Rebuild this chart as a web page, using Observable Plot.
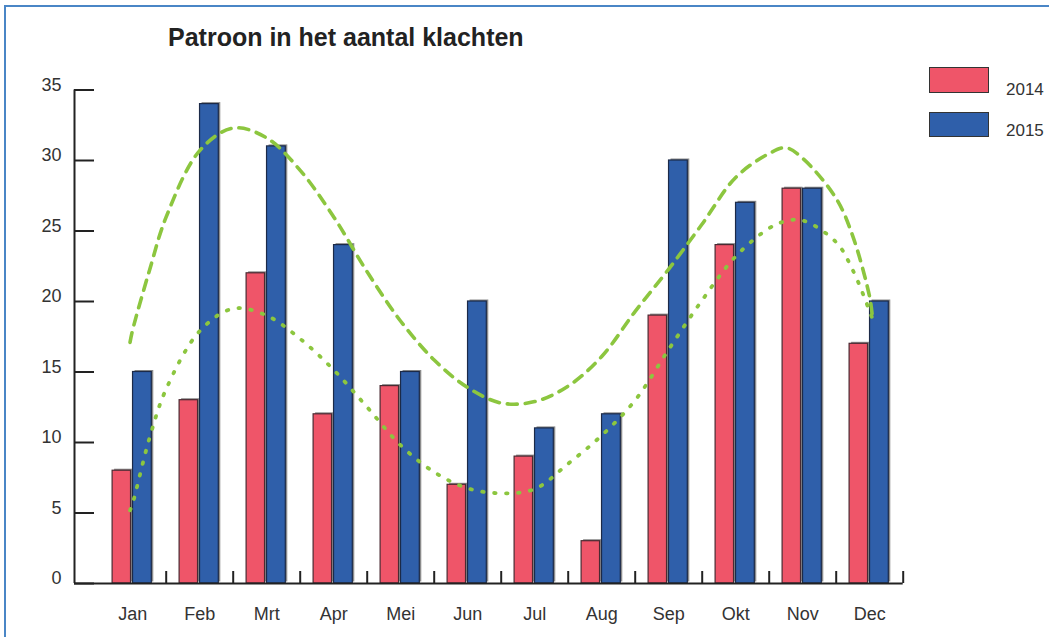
<!DOCTYPE html>
<html>
<head>
<meta charset="utf-8">
<script src="https://cdn.jsdelivr.net/npm/d3@7"></script>
<script src="https://cdn.jsdelivr.net/npm/@observablehq/plot@0.6"></script>
<style>
  html, body { margin: 0; padding: 0; background: #fff; }
  #wrap { position: relative; width: 1049px; height: 637px; overflow: hidden; font-family: "Liberation Sans", Arial, sans-serif; }
  #border { position: absolute; left: 4px; top: 5px; right: -10px; bottom: -10px; border-top: 2px solid #4a86c6; border-left: 2px solid #4a86c6; }
  #title { position: absolute; left: 168px; top: 25px; font-size: 25px; line-height: 25px; font-weight: bold; color: #222; white-space: nowrap; }
  .sw { position: absolute; left: 929px; width: 58px; border: 1.5px solid #333; }
  .lt { position: absolute; left: 1006px; font-size: 17px; line-height: 17px; color: #333; }
  #chart { position: absolute; left: 0; top: 0; }
</style>
</head>
<body>
<div id="wrap">
  <div id="border"></div>
  <div id="chart"></div>
  <div id="title">Patroon in het aantal klachten</div>
  <div class="sw" style="top:67px;height:24px;background:#ef5569"></div>
  <div class="lt" style="top:81px">2014</div>
  <div class="sw" style="top:112px;height:23px;background:#2f5faa"></div>
  <div class="lt" style="top:122px">2015</div>
</div>
<script>
const months = ["Jan","Feb","Mrt","Apr","Mei","Jun","Jul","Aug","Sep","Okt","Nov","Dec"];
const values2014 = [8,13,22,12,14,7,9,3,19,24,28,17];
const values2015 = [15,34,31,24,15,20,11,12,30,27,28,20];
const yTicks = [0,5,10,15,20,25,30,35];
const trendX = [0.96,1,1.25,1.5,2,2.5,3,3.5,4,4.5,5,5.5,6,6.5,7,7.5,8,8.5,9,9.5,10,10.5,10.75,11,11.5,11.75,12,12.04];
const trend2014 = [5.2,5.7,10.3,13.8,17.9,19.5,19.0,17.35,15.15,12.5,9.8,7.9,6.75,6.4,6.7,8.5,10.5,13.0,16.6,20.1,23.2,25.2,25.7,25.75,24.2,22.2,19.3,18.8];
const trend2015 = [17.1,18.0,22.2,26.0,30.7,32.3,31.6,29.3,26.0,22.1,18.6,15.85,13.9,12.8,12.9,14.0,16.1,19.3,22.3,25.5,28.8,30.5,30.9,30.15,27.3,24.6,20.3,18.9];

const idx = months.map((m, i) => i + 1);
const bars14 = months.map((m, i) => ({i: i + 1, v: values2014[i]}));
const bars15 = months.map((m, i) => ({i: i + 1, v: values2015[i]}));
const line14 = trendX.map((x, k) => ({x, y: trend2014[k]}));
const line15 = trendX.map((x, k) => ({x, y: trend2015[k]}));
const boundaries = idx.map(i => i + 0.5);

const marginLeft = 74, pxPerUnit = 67, firstBand = 98.7;
const x0 = 0.5 - (firstBand - marginLeft) / pxPerUnit;
const marginRight = 1049 - (firstBand + 12 * pxPerUnit);

const pink = "#ef5569", blue = "#2f5faa", green = "#8cc63f";

const chart = Plot.plot({
  width: 1049,
  height: 637,
  marginTop: 89.5,
  marginBottom: 54,
  marginLeft,
  marginRight,
  style: {fontFamily: "'Liberation Sans', Arial, sans-serif", fontSize: "18px", color: "#333", background: "transparent", overflow: "visible"},
  x: {type: "linear", domain: [x0, 12.5], axis: null, label: null},
  y: {domain: [0, 35], axis: null, label: null},
  marks: [
    // bar shadows
    Plot.rectY(bars14, {x1: d => d.i - 0.30, x2: d => d.i - 0.025, y1: 0, y2: "v", fill: "#8c8c8c", dx: 2, dy: -1.5}),
    Plot.rectY(bars15, {x1: d => d.i + 0.005, x2: d => d.i + 0.285, y1: 0, y2: "v", fill: "#8c8c8c", dx: 2, dy: -1.5}),
    // bars
    Plot.rectY(bars14, {x1: d => d.i - 0.30, x2: d => d.i - 0.025, y1: 0, y2: "v", fill: pink, stroke: "#4a2a32", strokeWidth: 1.2}),
    Plot.rectY(bars15, {x1: d => d.i + 0.005, x2: d => d.i + 0.285, y1: 0, y2: "v", fill: blue, stroke: "#1c2a48", strokeWidth: 1.2}),
    // trend lines
    Plot.line(line15, {x: "x", y: "y", curve: "catmull-rom", stroke: green, strokeWidth: 3.6, strokeDasharray: "10,8", strokeLinecap: "round"}),
    Plot.line(line14, {x: "x", y: "y", curve: "catmull-rom", stroke: green, strokeWidth: 3.8, strokeDasharray: "1.5,10.5", strokeLinecap: "round"}),
    // axis lines
    Plot.ruleX([x0], {stroke: "#222", strokeWidth: 2}),
    Plot.ruleY([0], {stroke: "#222", strokeWidth: 2}),
    // y ticks pointing inward
    Plot.axisY({ticks: yTicks, tickSize: 20, dx: 20, tickFormat: () => "", label: null, stroke: "#222", strokeWidth: 2}),
    Plot.axisY({ticks: yTicks, tickSize: 0, tickPadding: 13, dy: -5, label: null, fill: "#333"}),
    // category boundary ticks pointing up
    Plot.axisX({ticks: boundaries, tickSize: 12, dy: -12, tickFormat: () => "", label: null, stroke: "#222", strokeWidth: 2}),
    Plot.axisX({ticks: idx, tickSize: 0, tickPadding: 24, tickFormat: i => months[i - 1], label: null, fill: "#333"})
  ]
});
document.getElementById("chart").appendChild(chart);
</script>
</body>
</html>
